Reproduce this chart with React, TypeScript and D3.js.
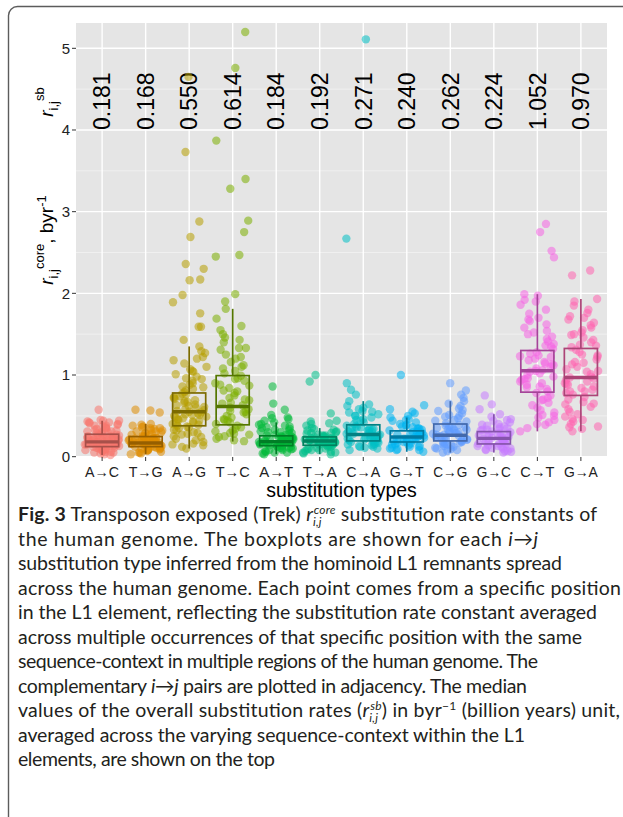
import React from "react";
import * as d3 from "d3";

// Substitution categories (complementary pairs adjacent) and ggplot-style hue palette
const substitutionTypes = ["A→C", "T→G", "A→G", "T→C", "A→T", "T→A", "C→A", "G→T", "C→G", "G→C", "C→T", "G→A"];
const typeColors = ["#F8766D", "#DE8C00", "#B79F00", "#7CAE00", "#00BA38", "#00C08B", "#00BFC4", "#00B4F0", "#619CFF", "#C77CFF", "#F564E3", "#FF64B0"];

// Median overall substitution rates r_sb (byr^-1), printed above each box
const sbMedians = [0.181, 0.168, 0.550, 0.614, 0.184, 0.192, 0.271, 0.240, 0.262, 0.224, 1.052, 0.970];

// Box statistics of r_core per substitution type
const q1Values = [0.123, 0.123, 0.378, 0.390, 0.135, 0.140, 0.193, 0.180, 0.193, 0.156, 0.790, 0.750];
const q3Values = [0.275, 0.246, 0.780, 0.993, 0.255, 0.242, 0.390, 0.316, 0.400, 0.307, 1.300, 1.325];
const whiskerLow = [0.02, 0.03, 0.10, 0.185, 0.03, 0.03, 0.08, 0.06, 0.05, 0.05, 0.31, 0.31];
const whiskerHigh = [0.44, 0.40, 1.35, 1.81, 0.42, 0.35, 0.68, 0.48, 0.68, 0.52, 1.99, 1.93];

// Per-position r_core values (byr^-1)
const ratesAC = [0.02, 0.03, 0.04, 0.05, 0.05, 0.06, 0.07, 0.07, 0.08, 0.08, 0.09, 0.10, 0.10, 0.11, 0.11, 0.12, 0.12,
  0.13, 0.13, 0.14, 0.14, 0.15, 0.15, 0.15, 0.16, 0.16, 0.17, 0.17, 0.17, 0.18, 0.18, 0.18, 0.18,
  0.19, 0.19, 0.20, 0.20, 0.21, 0.21, 0.22, 0.22, 0.23, 0.23, 0.24, 0.24, 0.25, 0.25, 0.26, 0.26, 0.27,
  0.28, 0.29, 0.30, 0.31, 0.32, 0.33, 0.34, 0.35, 0.36, 0.37, 0.38, 0.39, 0.40, 0.41, 0.42, 0.43, 0.44, 0.44, 0.575,
  0.09, 0.12, 0.14, 0.15, 0.16, 0.17, 0.19, 0.20, 0.21, 0.22, 0.23, 0.24, 0.27, 0.29, 0.31, 0.34, 0.38, 0.42, 0.45, 0.06];
const ratesTG = [0.03, 0.04, 0.05, 0.06, 0.07, 0.08, 0.08, 0.09, 0.10, 0.10, 0.11, 0.11, 0.12, 0.12,
  0.13, 0.13, 0.14, 0.14, 0.15, 0.15, 0.16, 0.16, 0.16, 0.17, 0.17,
  0.18, 0.18, 0.19, 0.19, 0.20, 0.20, 0.21, 0.21, 0.22, 0.22, 0.23, 0.23, 0.24, 0.24,
  0.25, 0.26, 0.27, 0.28, 0.29, 0.30, 0.31, 0.32, 0.33, 0.34, 0.35, 0.36, 0.37, 0.38, 0.39, 0.40, 0.54, 0.566, 0.575,
  0.09, 0.12, 0.14, 0.15, 0.17, 0.18, 0.19, 0.20, 0.21, 0.22, 0.23, 0.26, 0.28, 0.31, 0.35, 0.05, 0.10, 0.16];
const ratesAG = [0.10, 0.12, 0.14, 0.16, 0.18, 0.20, 0.22, 0.24, 0.25, 0.27, 0.29, 0.30, 0.32, 0.33, 0.35, 0.36, 0.37,
  0.38, 0.40, 0.41, 0.42, 0.44, 0.45, 0.46, 0.48, 0.49, 0.50, 0.51, 0.52, 0.53, 0.54, 0.55,
  0.56, 0.58, 0.60, 0.61, 0.63, 0.64, 0.66, 0.68, 0.69, 0.71, 0.72, 0.74, 0.76, 0.77,
  0.79, 0.81, 0.83, 0.86, 0.88, 0.90, 0.93, 0.95, 0.98, 1.01, 1.04, 1.07, 1.10, 1.14, 1.18, 1.22, 1.27, 1.29, 1.35,
  1.43, 1.59, 1.59, 1.755, 1.89, 1.98, 2.16, 2.17, 2.30, 2.36, 2.69, 2.88, 3.73, 4.65,
  0.15, 0.28, 0.39, 0.43, 0.47, 0.51, 0.57, 0.62, 0.67, 0.73, 0.85, 0.96, 1.05, 1.20];
const ratesTC = [0.19, 0.20, 0.22, 0.24, 0.25, 0.27, 0.29, 0.31, 0.32, 0.34, 0.36, 0.38,
  0.40, 0.42, 0.44, 0.46, 0.48, 0.50, 0.52, 0.54, 0.56, 0.58, 0.60,
  0.63, 0.66, 0.69, 0.72, 0.75, 0.78, 0.81, 0.84, 0.87, 0.90, 0.93, 0.96, 0.99,
  1.02, 1.05, 1.08, 1.12, 1.16, 1.20, 1.25, 1.31, 1.33, 1.33, 1.43, 1.46, 1.50, 1.55, 1.60, 1.69, 1.81,
  1.90, 1.99, 2.45, 2.47, 2.75, 2.89, 3.28, 3.40, 3.87, 4.76, 5.20,
  0.28, 0.45, 0.55, 0.65, 0.70, 0.80, 0.88, 0.95, 1.10, 1.22, 1.40];
const ratesAT = [0.03, 0.04, 0.05, 0.06, 0.07, 0.08, 0.09, 0.10, 0.10, 0.11, 0.12, 0.12, 0.13,
  0.14, 0.14, 0.15, 0.15, 0.16, 0.16, 0.17, 0.17, 0.18, 0.18,
  0.19, 0.19, 0.20, 0.20, 0.21, 0.21, 0.22, 0.22, 0.23, 0.24, 0.25,
  0.26, 0.27, 0.28, 0.29, 0.30, 0.31, 0.32, 0.33, 0.35, 0.36, 0.37, 0.38, 0.40, 0.42,
  0.46, 0.48, 0.51, 0.575, 0.65, 0.86,
  0.05, 0.08, 0.11, 0.13, 0.15, 0.16, 0.17, 0.18, 0.19, 0.20, 0.21, 0.22, 0.23, 0.24, 0.27, 0.30, 0.34, 0.39, 0.44, 0.47];
const ratesTA = [0.03, 0.04, 0.05, 0.06, 0.07, 0.08, 0.09, 0.10, 0.11, 0.12, 0.13,
  0.14, 0.15, 0.15, 0.16, 0.16, 0.17, 0.17, 0.18, 0.18, 0.19,
  0.20, 0.20, 0.21, 0.21, 0.22, 0.22, 0.23, 0.23, 0.24,
  0.25, 0.26, 0.27, 0.28, 0.29, 0.30, 0.31, 0.32, 0.33, 0.35,
  0.40, 0.41, 0.43, 0.44, 0.53, 0.92, 1.00,
  0.05, 0.08, 0.10, 0.12, 0.14, 0.16, 0.17, 0.18, 0.19, 0.20, 0.21, 0.22, 0.24, 0.26, 0.29, 0.34, 0.38];
const ratesCA = [0.08, 0.10, 0.11, 0.12, 0.13, 0.14, 0.15, 0.16, 0.17, 0.18, 0.19,
  0.20, 0.21, 0.22, 0.23, 0.24, 0.25, 0.26, 0.27,
  0.28, 0.29, 0.30, 0.31, 0.32, 0.33, 0.34, 0.35, 0.36, 0.37, 0.38,
  0.40, 0.42, 0.44, 0.46, 0.48, 0.50, 0.52, 0.54, 0.56, 0.58, 0.60, 0.64, 0.68,
  0.76, 0.82, 0.90, 2.67, 5.11,
  0.12, 0.15, 0.18, 0.20, 0.22, 0.24, 0.26, 0.28, 0.30, 0.32, 0.34, 0.36, 0.45, 0.50, 0.55, 0.62];
const ratesGT = [0.06, 0.08, 0.09, 0.10, 0.11, 0.12, 0.13, 0.14, 0.15, 0.16, 0.17,
  0.18, 0.19, 0.20, 0.21, 0.22, 0.23, 0.24,
  0.25, 0.26, 0.27, 0.28, 0.29, 0.30, 0.31,
  0.32, 0.33, 0.34, 0.35, 0.36, 0.37, 0.38, 0.40, 0.42, 0.44, 0.46, 0.48,
  0.53, 0.55, 0.58, 0.63, 1.00,
  0.08, 0.12, 0.15, 0.18, 0.20, 0.22, 0.24, 0.26, 0.28, 0.30, 0.34, 0.39, 0.45, 0.50];
const ratesCG = [0.05, 0.07, 0.09, 0.10, 0.12, 0.13, 0.14, 0.15, 0.16, 0.17, 0.18, 0.19,
  0.20, 0.21, 0.22, 0.23, 0.24, 0.25, 0.26,
  0.27, 0.28, 0.29, 0.30, 0.31, 0.32, 0.33, 0.34, 0.35, 0.36, 0.37, 0.38, 0.39,
  0.41, 0.43, 0.45, 0.47, 0.49, 0.51, 0.53, 0.56, 0.59, 0.62, 0.65, 0.68,
  0.72, 0.76, 0.81, 0.90,
  0.08, 0.11, 0.15, 0.18, 0.21, 0.24, 0.27, 0.30, 0.33, 0.36, 0.44, 0.50, 0.57];
const ratesGC = [0.05, 0.06, 0.07, 0.08, 0.09, 0.10, 0.11, 0.12, 0.13, 0.14, 0.15,
  0.16, 0.17, 0.18, 0.19, 0.20, 0.21, 0.22,
  0.23, 0.24, 0.25, 0.26, 0.27, 0.28, 0.29, 0.30,
  0.31, 0.32, 0.33, 0.34, 0.35, 0.36, 0.37, 0.38, 0.40, 0.42, 0.44, 0.46, 0.49, 0.52,
  0.58, 0.64, 0.75,
  0.07, 0.10, 0.13, 0.16, 0.18, 0.20, 0.22, 0.24, 0.26, 0.28, 0.33, 0.39, 0.45];
const ratesCT = [0.31, 0.35, 0.39, 0.42, 0.45, 0.48, 0.51, 0.54, 0.57, 0.60, 0.63, 0.66, 0.69, 0.72, 0.75, 0.78,
  0.80, 0.83, 0.86, 0.88, 0.90, 0.92, 0.94, 0.96, 0.98, 1.00, 1.02, 1.04,
  1.06, 1.08, 1.10, 1.12, 1.14, 1.16, 1.18, 1.20, 1.22, 1.24, 1.26, 1.28,
  1.32, 1.35, 1.38, 1.41, 1.44, 1.47, 1.50, 1.54, 1.58, 1.62, 1.66, 1.70, 1.75, 1.80, 1.86, 1.92, 1.97, 1.99,
  2.44, 2.52, 2.75, 2.85,
  0.50, 0.70, 0.85, 0.95, 1.05, 1.13, 1.23, 1.36, 1.52, 1.68, 0.40, 1.90];
const ratesGA = [0.31, 0.34, 0.37, 0.40, 0.43, 0.46, 0.49, 0.52, 0.55, 0.58, 0.61, 0.64, 0.67, 0.70, 0.73,
  0.76, 0.78, 0.80, 0.82, 0.84, 0.86, 0.88, 0.90, 0.92, 0.94, 0.96,
  0.98, 1.01, 1.04, 1.07, 1.10, 1.13, 1.16, 1.19, 1.22, 1.25, 1.28, 1.31,
  1.34, 1.37, 1.40, 1.43, 1.46, 1.49, 1.52, 1.55, 1.58, 1.61, 1.64, 1.68, 1.72, 1.76, 1.80, 1.85, 1.90, 1.93,
  2.22, 2.28,
  0.45, 0.65, 0.80, 0.89, 0.97, 1.05, 1.15, 1.24, 1.36, 1.50, 1.70, 0.36];
const ratesByType = [ratesAC, ratesTG, ratesAG, ratesTC, ratesAT, ratesTA, ratesCA, ratesGT, ratesCG, ratesGC, ratesCT, ratesGA];

const yTicks = [0, 1, 2, 3, 4, 5];
const yMinorTicks = [0.5, 1.5, 2.5, 3.5, 4.5];

const W = 623;
const H = 817;
const panel = { left: 76, right: 607, top: 23, bottom: 457 };

const x = d3.scalePoint<string>().domain(substitutionTypes).range([panel.left, panel.right]).padding(0.6);
const y = d3.scaleLinear().domain([-0.004, 5.31]).range([panel.bottom, panel.top]);
const step = x.step();
const boxW = step * 0.76;

// deterministic horizontal jitter in [-0.5, 0.5)
const jitter = (k: number, i: number) => {
  const s = Math.sin((i + 1) * 12.9898 + (k + 1) * 78.233) * 43758.5453;
  return s - Math.floor(s) - 0.5;
};

const chartFont = "'Liberation Sans', Arial, Helvetica, sans-serif";
const captionFont = "Lato, 'Open Sans', sans-serif";

const captionTop = 521;
const captionStep = 24.5;
const captionWidths = [579, 520, 544, 603, 579, 564, 520, 509, 602, 507, 257];

function Caption() {
  const lines: React.ReactNode[] = [
    <>
      <tspan fontWeight={700}>Fig. 3</tspan> Transposon exposed (Trek) <tspan fontStyle="italic">r</tspan>
      <tspan fontStyle="italic" fontSize={12} dy={5}>i,j</tspan>
      <tspan fontStyle="italic" fontSize={12} dx={-8} dy={-12}>core</tspan>
      <tspan dy={7}> substitution rate constants of</tspan>
    </>,
    <>
      the human genome. The boxplots are shown for each <tspan fontStyle="italic">i</tspan>→<tspan fontStyle="italic">j</tspan>
    </>,
    <>substitution type inferred from the hominoid L1 remnants spread</>,
    <>across the human genome. Each point comes from a specific position</>,
    <>in the L1 element, reflecting the substitution rate constant averaged</>,
    <>across multiple occurrences of that specific position with the same</>,
    <>sequence-context in multiple regions of the human genome. The</>,
    <>
      complementary <tspan fontStyle="italic">i</tspan>→<tspan fontStyle="italic">j</tspan> pairs are plotted in adjacency. The median
    </>,
    <>
      values of the overall substitution rates (<tspan fontStyle="italic">r</tspan>
      <tspan fontStyle="italic" fontSize={12} dy={5}>i,j</tspan>
      <tspan fontStyle="italic" fontSize={12} dx={-8} dy={-12}>sb</tspan>
      <tspan dy={7}>) in byr</tspan>
      <tspan fontSize={12} dy={-7}>−1</tspan>
      <tspan dy={7}> (billion years) unit,</tspan>
    </>,
    <>averaged across the varying sequence-context within the L1</>,
    <>elements, are shown on the top</>,
  ];
  return (
    <g fontFamily={captionFont} fontSize={19.5} fill="#231f20">
      {lines.map((content, i) => (
        <text key={i} x={18} y={captionTop + i * captionStep} textLength={captionWidths[i]} lengthAdjust="spacing">
          {content}
        </text>
      ))}
    </g>
  );
}

export default function App() {
  return (
    <svg width={W} height={H} style={{ position: "absolute", left: 0, top: 0, background: "#fff" }}>
      {/* outer frame */}
      <rect x={8.5} y={6.5} width={W + 40} height={H + 40} rx={9} fill="none" stroke="#5c5c5c" strokeWidth={1.4} />

      {/* panel */}
      <rect x={panel.left} y={panel.top} width={panel.right - panel.left} height={panel.bottom - panel.top} fill="#E5E5E5" />
      {yMinorTicks.map((t) => (
        <line key={"mn" + t} x1={panel.left} x2={panel.right} y1={y(t)} y2={y(t)} stroke="#F2F2F2" strokeWidth={0.8} />
      ))}
      {yTicks.map((t) => (
        <line key={"mj" + t} x1={panel.left} x2={panel.right} y1={y(t)} y2={y(t)} stroke="#fff" strokeWidth={1.4} />
      ))}
      {substitutionTypes.map((c) => (
        <line key={"vg" + c} x1={x(c)} x2={x(c)} y1={panel.top} y2={panel.bottom} stroke="#fff" strokeWidth={1.4} />
      ))}

      {/* r_sb medians on top */}
      {substitutionTypes.map((c, k) => (
        <text
          key={"sb" + c}
          transform={`translate(${x(c)},${y(4)}) rotate(-90)`}
          dy="0.36em"
          fontFamily={chartFont}
          fontSize={23}
          fill="#000"
        >
          {sbMedians[k].toFixed(3)}
        </text>
      ))}

      {/* jittered points */}
      <g>
        {ratesByType.map((vals, k) =>
          vals.map((v, i) => (
            <circle
              key={k + "-" + i}
              cx={(x(substitutionTypes[k]) as number) + jitter(k, i) * step * 0.8}
              cy={y(v)}
              r={4.2}
              fill={typeColors[k]}
              fillOpacity={0.55}
            />
          ))
        )}
      </g>

      {/* boxplots */}
      {substitutionTypes.map((c, k) => {
        const cx = x(c) as number;
        const stroke = d3.color(typeColors[k])!.darker(1.1).formatHex();
        return (
          <g key={"bx" + c} stroke={stroke} fill="none">
            <line x1={cx} x2={cx} y1={y(whiskerHigh[k])} y2={y(q3Values[k])} strokeWidth={1.7} />
            <line x1={cx} x2={cx} y1={y(q1Values[k])} y2={y(whiskerLow[k])} strokeWidth={1.7} />
            <rect
              x={cx - boxW / 2}
              y={y(q3Values[k])}
              width={boxW}
              height={y(q1Values[k]) - y(q3Values[k])}
              strokeWidth={1.7}
            />
            <line x1={cx - boxW / 2} x2={cx + boxW / 2} y1={y(sbMedians[k])} y2={y(sbMedians[k])} strokeWidth={3.4} />
          </g>
        );
      })}

      {/* y axis */}
      {yTicks.map((t) => (
        <g key={"yt" + t}>
          <line x1={panel.left - 4} x2={panel.left} y1={y(t)} y2={y(t)} stroke="#333" strokeWidth={1} />
          <text x={panel.left - 6} y={y(t)} dy="0.36em" textAnchor="end" fontFamily={chartFont} fontSize={15} fill="#222">
            {t}
          </text>
        </g>
      ))}

      {/* x axis */}
      {substitutionTypes.map((c) => (
        <g key={"xt" + c}>
          <line x1={x(c)} x2={x(c)} y1={panel.bottom} y2={panel.bottom + 4} stroke="#333" strokeWidth={1} />
          <text
            x={x(c)}
            y={panel.bottom + 19.5}
            textAnchor="middle"
            fontFamily={chartFont}
            fontSize={15}
            fill="#222"
            textLength={34}
            lengthAdjust="spacingAndGlyphs"
          >
            {c}
          </text>
        </g>
      ))}
      <text x={(panel.left + panel.right) / 2} y={497} textAnchor="middle" fontFamily={chartFont} fontSize={19.5} fill="#000">
        substitution types
      </text>

      {/* y axis titles */}
      <g transform={`translate(53,${(panel.top + panel.bottom) / 2}) rotate(-90)`} fontFamily={chartFont} fill="#000">
        <text textAnchor="middle" fontSize={19}>
          <tspan fontStyle="italic">r</tspan>
          <tspan fontSize={13} dy={5}>i,j</tspan>
          <tspan fontSize={13} dy={-14}>core</tspan>
          <tspan dy={9}>, byr</tspan>
          <tspan fontSize={13} dy={-7}>-1</tspan>
        </text>
      </g>
      <g transform={`translate(53,102) rotate(-90)`} fontFamily={chartFont} fill="#000">
        <text textAnchor="middle" fontSize={19}>
          <tspan fontStyle="italic">r</tspan>
          <tspan fontSize={13} dy={5}>i,j</tspan>
          <tspan fontSize={13} dy={-14}>sb</tspan>
        </text>
      </g>

      <Caption />
    </svg>
  );
}
